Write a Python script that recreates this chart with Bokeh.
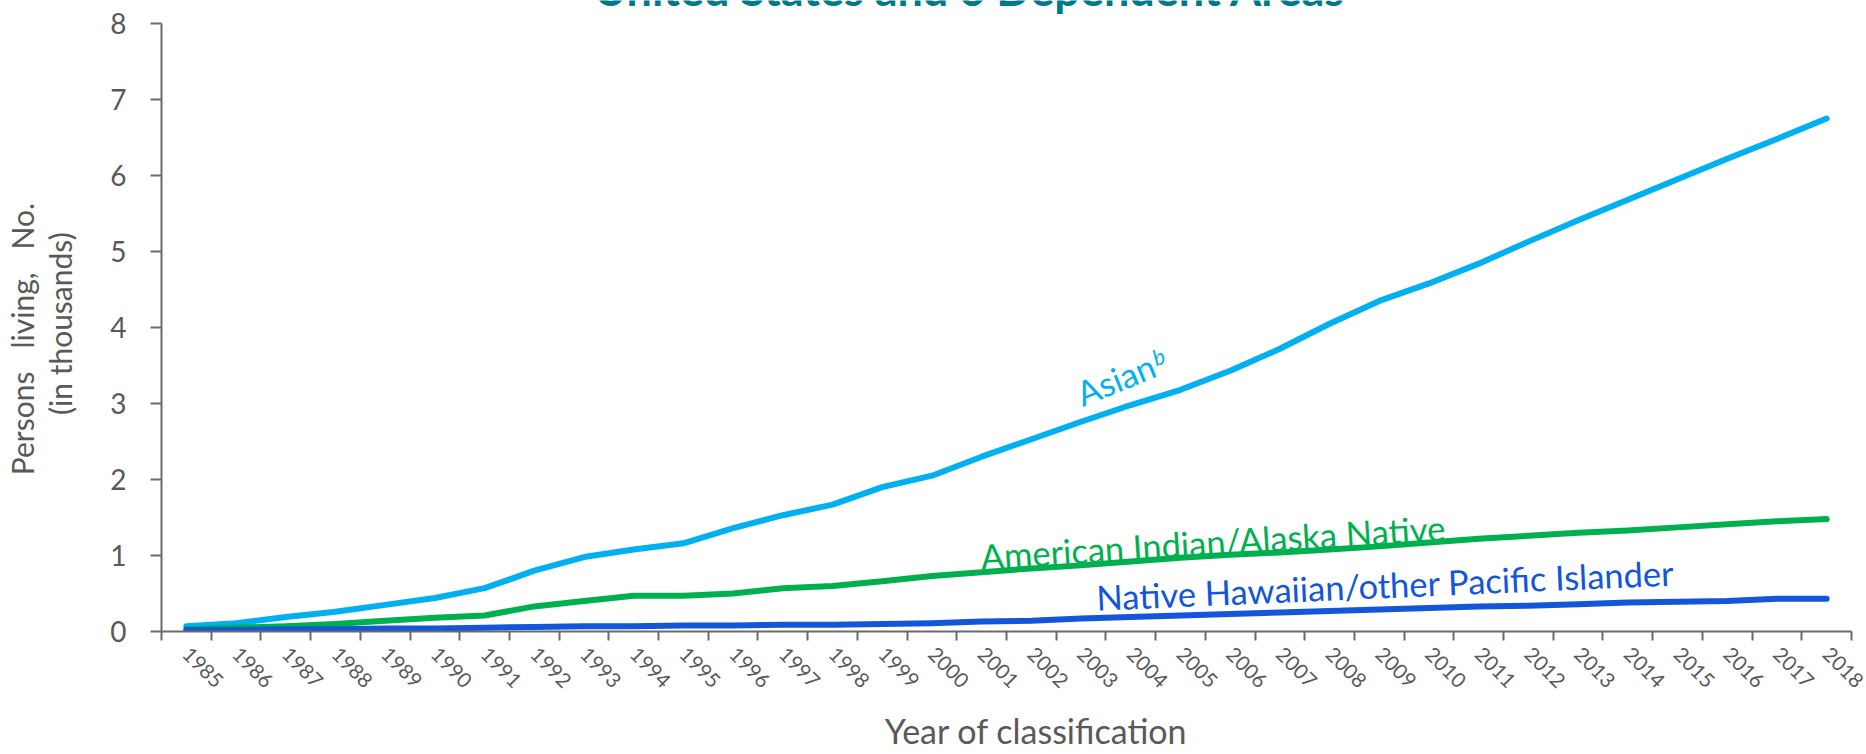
import math
from bokeh.plotting import figure
from bokeh.models import Range1d, FixedTicker, Label, LinearAxis
from bokeh.embed import file_html
from bokeh.resources import INLINE

# ---------------- data ----------------
years = list(range(1985, 2019))
year_labels = [str(y) for y in years]
asian = [0.07, 0.11, 0.19, 0.26, 0.35, 0.44, 0.57, 0.80, 0.98, 1.08,
         1.16, 1.36, 1.53, 1.67, 1.90, 2.05, 2.30, 2.53, 2.76, 2.98,
         3.18, 3.43, 3.72, 4.05, 4.35, 4.58, 4.84, 5.13, 5.41, 5.68,
         5.95, 6.22, 6.48, 6.75]
aian = [0.03, 0.05, 0.07, 0.10, 0.14, 0.18, 0.21, 0.33, 0.40, 0.47,
        0.47, 0.50, 0.57, 0.60, 0.66, 0.73, 0.78, 0.83, 0.87, 0.92,
        0.97, 1.01, 1.04, 1.08, 1.12, 1.17, 1.22, 1.26, 1.30, 1.33,
        1.37, 1.41, 1.45, 1.48]
nhopi = [0.02, 0.02, 0.03, 0.03, 0.04, 0.04, 0.05, 0.06, 0.07, 0.07,
         0.08, 0.08, 0.09, 0.09, 0.10, 0.11, 0.13, 0.14, 0.17, 0.19,
         0.21, 0.23, 0.25, 0.27, 0.29, 0.31, 0.33, 0.34, 0.36, 0.38,
         0.39, 0.40, 0.43, 0.43]
y_ticks = [0, 1, 2, 3, 4, 5, 6, 7, 8]
series_names = ["Asian", "American Indian/Alaska Native",
                "Native Hawaiian/other Pacific Islander"]
title_text = "United States and 6 Dependent Areas"
x_title = "Year of classification"
y_title_1 = "Persons\u00a0\u00a0 living,\u00a0\u00a0 No."
y_title_2 = "(in thousands)"

# ---------------- style ----------------
C_ASIAN = "#00B0F0"
C_AIAN = "#00B050"
C_NHOPI = "#1356DA"
C_AXIS = "#6B6B6B"
C_TEXT = "#595959"
C_TITLE = "#007A8A"
FONT = "Lato"
NBSP = "\u00a0"

W, H = 1866, 754
LEFT, RIGHT, BOTTOM = 160, 15, 123
PX_PER_UNIT = 76.0
y_top = (H - BOTTOM) / PX_PER_UNIT   # frame reaches the top of the canvas

p = figure(width=W, height=H, output_backend="svg", toolbar_location=None,
           x_range=Range1d(1984.5, 2018.5), y_range=Range1d(0, y_top),
           min_border_left=LEFT, min_border_right=RIGHT, min_border_top=0,
           min_border_bottom=BOTTOM)
p.outline_line_color = None
p.grid.visible = False
p.background_fill_color = "white"
p.border_fill_color = "white"

# x axis: labels at year centres, ticks between categories (minor ticks)
xa = p.xaxis[0]
xa.ticker = FixedTicker(ticks=years,
                        minor_ticks=[y - 0.5 for y in years] + [years[-1] + 0.5])
xa.major_label_overrides = {y: lab for y, lab in zip(years, year_labels)}
xa.major_label_orientation = -math.pi / 4
xa.major_tick_out = 0
xa.major_tick_in = 0
xa.minor_tick_out = 9
xa.minor_tick_in = 0
xa.minor_tick_line_color = C_AXIS
xa.minor_tick_line_width = 2
xa.axis_line_color = C_AXIS
xa.axis_line_width = 2
xa.major_label_text_font = FONT
xa.major_label_text_font_size = "20.5px"
xa.major_label_text_color = C_TEXT
xa.major_label_standoff = 10
xa.axis_label = NBSP * 7 + x_title
xa.axis_label_text_font = FONT
xa.axis_label_text_font_size = "34px"
xa.axis_label_text_font_style = "normal"
xa.axis_label_text_color = C_TEXT
xa.axis_label_standoff = 12

ya = p.yaxis[0]
ya.ticker = FixedTicker(ticks=y_ticks, minor_ticks=[])
ya.bounds = (0, 8)
ya.major_tick_out = 11
ya.major_tick_in = 0
ya.major_tick_line_color = C_AXIS
ya.major_tick_line_width = 2
ya.axis_line_color = C_AXIS
ya.axis_line_width = 2
ya.major_label_text_font = FONT
ya.major_label_text_font_size = "28px"
ya.major_label_text_color = C_TEXT
ya.major_label_standoff = 24
ya.axis_label = y_title_2 + NBSP * 2
ya.axis_label_text_font = FONT
ya.axis_label_text_font_size = "30px"
ya.axis_label_text_font_style = "normal"
ya.axis_label_text_color = C_TEXT
ya.axis_label_standoff = 29

# outer (label-only) axis for the first line of the y title
ya2 = LinearAxis(ticker=FixedTicker(ticks=[], minor_ticks=[]), bounds=(0, 8),
                 axis_line_color=None, major_tick_line_color=None,
                 minor_tick_line_color=None,
                 axis_label=y_title_1 + NBSP * 6, axis_label_text_font=FONT,
                 axis_label_text_font_size="30px",
                 axis_label_text_font_style="normal",
                 axis_label_text_color=C_TEXT, axis_label_standoff=0)
p.add_layout(ya2, "left")

# lines
for vals, col in [(asian, C_ASIAN), (aian, C_AIAN), (nhopi, C_NHOPI)]:
    p.line(years, vals, line_width=6, line_color=col,
           line_cap="round", line_join="round")

# series labels
p.add_layout(Label(x=2002.93, y=3.12, text=series_names[0], angle=math.radians(22),
                   text_font=FONT, text_font_size="34px", text_color=C_ASIAN,
                   text_align="left", text_baseline="alphabetic"))
p.add_layout(Label(x=2004.45, y=3.59, text="b", angle=math.radians(22),
                   text_font=FONT, text_font_size="22px", text_color=C_ASIAN,
                   text_font_style="italic",
                   text_align="left", text_baseline="alphabetic"))
p.add_layout(Label(x=2000.98, y=0.99, text=series_names[1], angle=math.radians(3.6),
                   text_font=FONT, text_font_size="34.5px", text_color=C_AIAN,
                   text_align="left", text_baseline="alphabetic"))
p.add_layout(Label(x=2003.31, y=0.45, text=series_names[2], angle=math.radians(2.5),
                   text_font=FONT, text_font_size="34.5px", text_color=C_NHOPI,
                   text_align="left", text_baseline="alphabetic"))

# title, cut by the top edge as in the reference
p.add_layout(Label(x=2000.76, y=8.45, text=title_text,
                   text_font=FONT, text_font_style="bold", text_font_size="45px",
                   text_color=C_TITLE, text_align="center", text_baseline="alphabetic"))

open("out.html", "w").write(file_html(p, INLINE))
